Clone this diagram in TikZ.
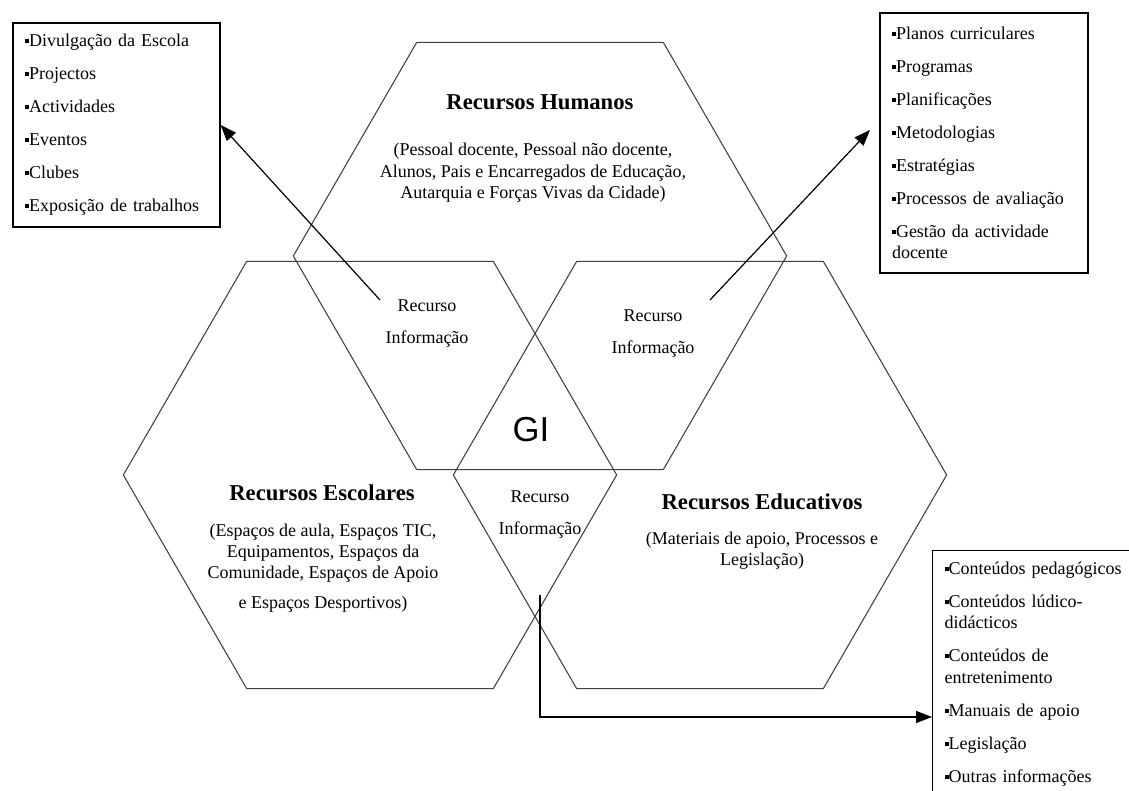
\documentclass[tikz,border=0pt]{standalone}
\usepackage{fontspec}
\setmainfont{Liberation Serif}
\newfontfamily\gisans{Liberation Sans}
\usetikzlibrary{positioning}
\usetikzlibrary{shapes.geometric, arrows.meta}

\newcommand{\itemmark}{\rule[2.6pt]{3pt}{3pt}}

\tikzset{
  hexa/.style={draw=black!75, line width=0.8pt, regular polygon, regular polygon sides=6,
    minimum size=370pt, inner sep=0pt, outer sep=0pt},
  hextitle/.style={font=\fontsize{17}{20}\selectfont\bfseries},
  hexdesc/.style={align=center, font=\fontsize{13.5}{16}\selectfont},
  recurso/.style={align=center, font=\fontsize{13.5}{24}\selectfont},
  listbox/.style={draw, line width=0.9pt, align=left, font=\fontsize{13.5}{16}\selectfont,
    inner xsep=9pt, inner ysep=0pt},
  arr/.style={line width=0.9pt, -{Triangle[length=12pt,width=9pt]}},
}

\begin{document}
\begin{tikzpicture}[x=0.75pt, y=-0.75pt]
    \clip (0,0) rectangle (1129,791);
    % the three hexagons
    \node[hexa] (humanos) at (540,256) {};
    \node[hexa] (escolares) at (370,475) {};
    \node[hexa] (educativos) at (700,475) {};

    \node[hextitle] (thum) at (540,102) {Recursos Humanos};
    \node[hexdesc] (dhum) at (533,173) {(Pessoal docente, Pessoal não docente,\\Alunos, Pais e Encarregados de Educação,\\Autarquia e Forças Vivas da Cidade)};
    \node[hextitle] (tesc) at (322,493) {Recursos Escolares};
    \node[hexdesc] (desc) at (323,568) {(Espaços de aula, Espaços TIC,\\Equipamentos, Espaços da\\Comunidade, Espaços de Apoio\\[6pt]e Espaços Desportivos)};
    \node[hextitle] (tedu) at (762,502) {Recursos Educativos};
    \node[hexdesc] (dedu) at (762,551) {(Materiais de apoio, Processos e\\Legislação)};

    % overlaps
    \node[recurso] (ri1) at (427,324) {Recurso\\Informação};
    \node[recurso] (ri2) at (653,334) {Recurso\\Informação};
    \node[recurso] (ri3) at (540,515) {Recurso\\Informação};
    \node[font=\gisans\fontsize{26}{30}\selectfont] (gi) at (531,430) {GI};

    % lists
    \node[listbox, minimum width=155.25pt, minimum height=153pt, text width=137pt] (lbox) at (116.5,125)
      {\itemmark Divulgação da Escola\\[8.75pt]\itemmark Projectos\\[8.75pt]\itemmark Actividades\\[8.75pt]\itemmark Eventos\\[8.75pt]\itemmark Clubes\\[8.75pt]\itemmark Exposição de trabalhos};
    \node[listbox, minimum width=156pt, minimum height=195pt, text width=138pt] (rbox) at (984,143)
      {\itemmark Planos curriculares\\[8.75pt]\itemmark Programas\\[8.75pt]\itemmark Planificações\\[8.75pt]\itemmark Metodologias\\[8.75pt]\itemmark Estratégias\\[8.75pt]\itemmark Processos de avaliação\\[8.75pt]\itemmark Gestão da actividade\\docente};
    \node[listbox, anchor=north west, minimum width=162pt, minimum height=185pt, text width=144pt] (bbox) at (932,550)
      {\itemmark Conteúdos pedagógicos\\[8.75pt]\itemmark Conteúdos lúdico-\\didácticos\\[8.75pt]\itemmark Conteúdos de\\entretenimento\\[8.75pt]\itemmark Manuais de apoio\\[8.75pt]\itemmark Legislação\\[8.75pt]\itemmark Outras informações};

    % arrows
    \coordinate (a1) at (380,300);
    \coordinate (a2) at (710,300);
    \coordinate (a3) at (540,595);
    \coordinate (t2) at (870,130);
    \coordinate (t3) at (932,717);
    \draw[arr] (a1) -- (lbox.east);
    \draw[arr] (a2) -- (t2);
    \draw[arr] (a3) |- (t3);
\end{tikzpicture}
\end{document}
